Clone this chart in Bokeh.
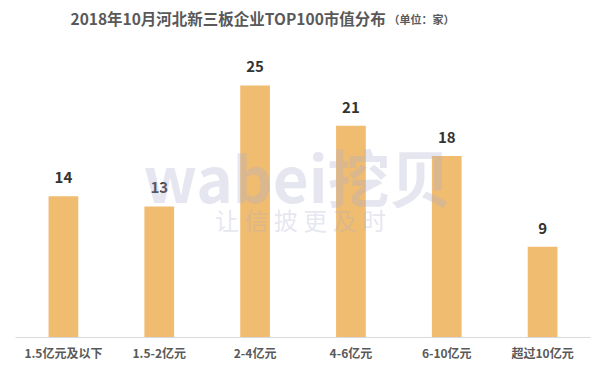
from bokeh.plotting import figure
from bokeh.models import ColumnDataSource, Label, LabelSet, FactorRange
from bokeh.core.properties import value
from bokeh.embed import file_html
from bokeh.resources import INLINE

categories = ["1.5亿元及以下", "1.5-2亿元", "2-4亿元", "4-6亿元", "6-10亿元", "超过10亿元"]
values = [14, 13, 25, 21, 18, 9]
value_labels = [str(v) for v in values]
title_text = "2018年10月河北新三板企业TOP100市值分布"
unit_text = "（单位：家）"

FONT = "Noto Sans CJK SC"
src = ColumnDataSource(dict(cat=categories, val=values, lab=value_labels))

p = figure(width=605, height=378, output_backend="svg", toolbar_location=None,
           x_range=FactorRange(*categories, range_padding=0), y_range=(0, 33.43),
           min_border_left=15, min_border_right=15, min_border_top=0, min_border_bottom=41)
p.outline_line_color = None
p.grid.visible = False
p.yaxis.visible = False
p.background_fill_color = "white"
p.border_fill_color = "white"

p.vbar(x="cat", top="val", width=0.31, source=src, fill_color="#F0BC70", line_color=None)

p.add_layout(LabelSet(x="cat", y="val", text="lab", source=src, y_offset=13,
                      text_align="center", text_baseline="bottom",
                      text_font=value(FONT), text_font_style="bold", text_font_size="15px",
                      text_color="#333333"))

ax = p.xaxis[0]
ax.axis_line_color = "#D9D9D9"
ax.axis_line_width = 1
ax.major_tick_line_color = None
ax.minor_tick_line_color = None
ax.major_label_text_font = FONT
ax.major_label_text_font_style = "bold"
ax.major_label_text_font_size = "12px"
ax.major_label_text_color = "#595959"
ax.major_label_standoff = 0

# screen units here are frame-relative: x from frame left (15px), y up from frame bottom (337px)
p.add_layout(Label(x=282, y=162, x_units="screen", y_units="screen", text="wabei挖贝",
                   text_font=FONT, text_font_style="bold", text_font_size="62px",
                   text_color="#A8ACCC", text_alpha=0.3, text_align="center", text_baseline="middle"))
p.add_layout(Label(x=285, y=118, x_units="screen", y_units="screen", text="让 信 披 更 及 时",
                   text_font=FONT, text_font_size="24px",
                   text_color="#A8ACCC", text_alpha=0.3, text_align="center", text_baseline="middle"))

p.add_layout(Label(x=55, y=320, x_units="screen", y_units="screen", text=title_text,
                   text_font=FONT, text_font_style="bold", text_font_size="15.5px",
                   text_color="#595959", text_align="left", text_baseline="middle"))
p.add_layout(Label(x=373, y=319, x_units="screen", y_units="screen", text=unit_text,
                   text_font=FONT, text_font_style="bold", text_font_size="11px",
                   text_color="#595959", text_align="left", text_baseline="middle"))

open("out.html", "w").write(file_html(p, INLINE))
